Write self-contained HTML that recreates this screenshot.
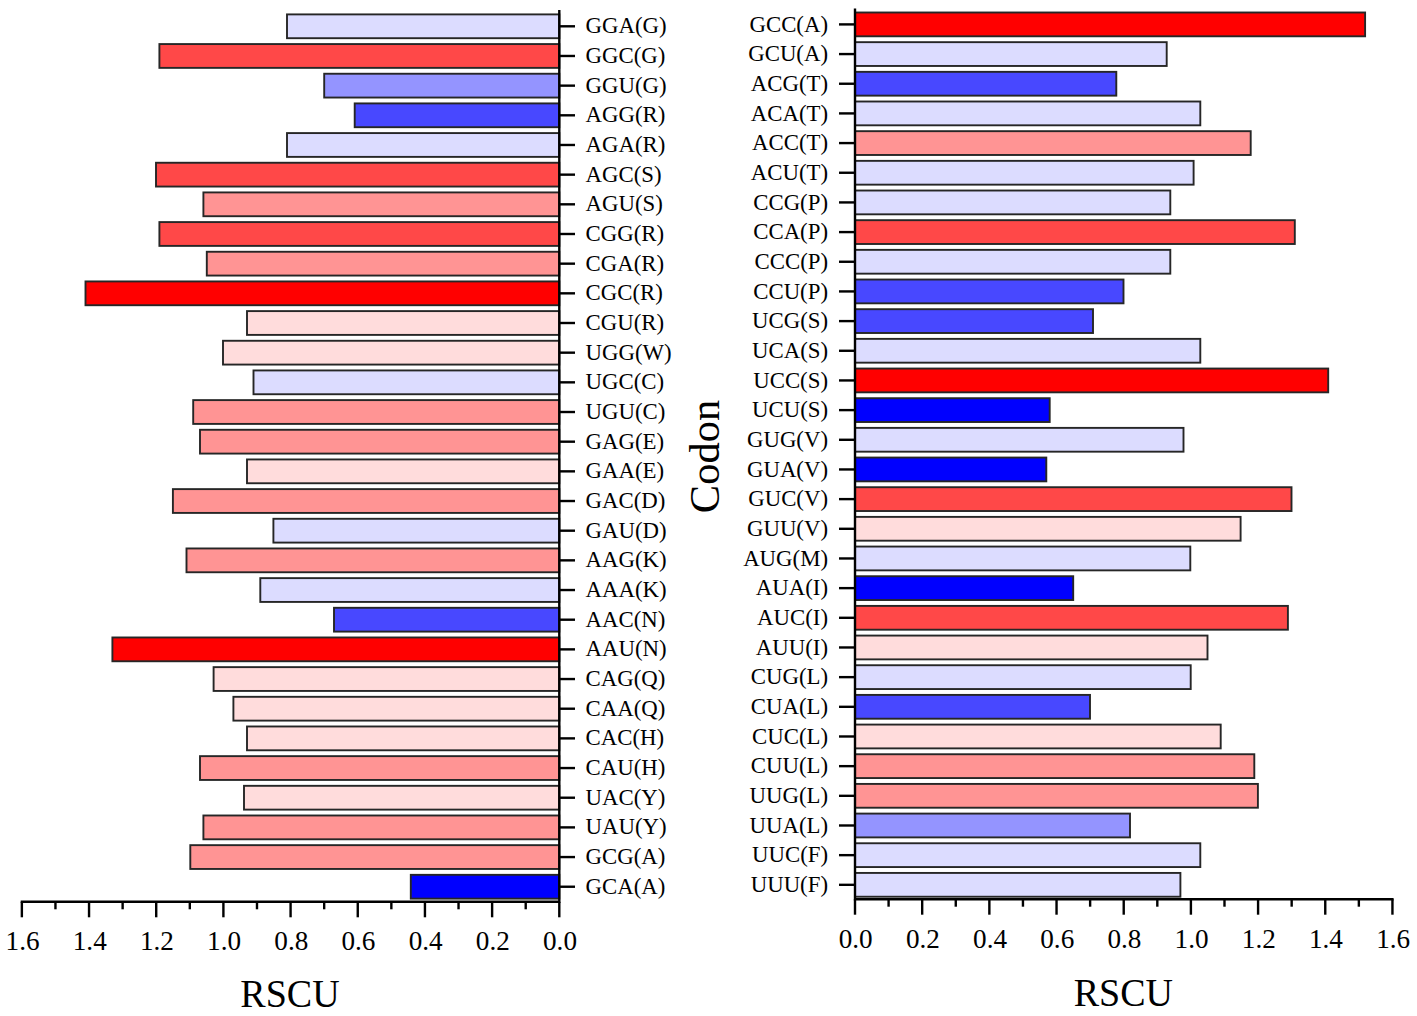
<!DOCTYPE html>
<html><head><meta charset="utf-8"><style>
html,body{margin:0;padding:0;background:#fff;}
body{width:1417px;height:1016px;overflow:hidden;}
svg{display:block;}
text{font-family:"Liberation Serif",serif;fill:#000;}
</style></head><body>
<svg width="1417" height="1016" viewBox="0 0 1417 1016">
<rect x="287.0" y="14.40" width="272.3" height="23.8" fill="#dcdcff" stroke="#262626" stroke-width="1.9"/>
<rect x="159.4" y="44.07" width="399.9" height="23.8" fill="#ff4848" stroke="#262626" stroke-width="1.9"/>
<rect x="324.2" y="73.74" width="235.1" height="23.8" fill="#9494ff" stroke="#262626" stroke-width="1.9"/>
<rect x="354.7" y="103.41" width="204.6" height="23.8" fill="#4848ff" stroke="#262626" stroke-width="1.9"/>
<rect x="287.0" y="133.08" width="272.3" height="23.8" fill="#dcdcff" stroke="#262626" stroke-width="1.9"/>
<rect x="156.0" y="162.75" width="403.3" height="23.8" fill="#ff4848" stroke="#262626" stroke-width="1.9"/>
<rect x="203.4" y="192.42" width="355.9" height="23.8" fill="#ff9494" stroke="#262626" stroke-width="1.9"/>
<rect x="159.4" y="222.09" width="399.9" height="23.8" fill="#ff4848" stroke="#262626" stroke-width="1.9"/>
<rect x="206.8" y="251.76" width="352.5" height="23.8" fill="#ff9494" stroke="#262626" stroke-width="1.9"/>
<rect x="85.5" y="281.43" width="473.8" height="23.8" fill="#ff0000" stroke="#262626" stroke-width="1.9"/>
<rect x="247.0" y="311.10" width="312.3" height="23.8" fill="#ffdcdc" stroke="#262626" stroke-width="1.9"/>
<rect x="223.0" y="340.77" width="336.3" height="23.8" fill="#ffdcdc" stroke="#262626" stroke-width="1.9"/>
<rect x="253.5" y="370.44" width="305.8" height="23.8" fill="#dcdcff" stroke="#262626" stroke-width="1.9"/>
<rect x="193.2" y="400.11" width="366.1" height="23.8" fill="#ff9494" stroke="#262626" stroke-width="1.9"/>
<rect x="200.0" y="429.78" width="359.3" height="23.8" fill="#ff9494" stroke="#262626" stroke-width="1.9"/>
<rect x="247.0" y="459.45" width="312.3" height="23.8" fill="#ffdcdc" stroke="#262626" stroke-width="1.9"/>
<rect x="172.9" y="489.12" width="386.4" height="23.8" fill="#ff9494" stroke="#262626" stroke-width="1.9"/>
<rect x="273.4" y="518.79" width="285.9" height="23.8" fill="#dcdcff" stroke="#262626" stroke-width="1.9"/>
<rect x="186.5" y="548.46" width="372.8" height="23.8" fill="#ff9494" stroke="#262626" stroke-width="1.9"/>
<rect x="260.3" y="578.13" width="299.0" height="23.8" fill="#dcdcff" stroke="#262626" stroke-width="1.9"/>
<rect x="334.0" y="607.80" width="225.3" height="23.8" fill="#4848ff" stroke="#262626" stroke-width="1.9"/>
<rect x="112.4" y="637.47" width="446.9" height="23.8" fill="#ff0000" stroke="#262626" stroke-width="1.9"/>
<rect x="213.6" y="667.14" width="345.7" height="23.8" fill="#ffdcdc" stroke="#262626" stroke-width="1.9"/>
<rect x="233.4" y="696.81" width="325.9" height="23.8" fill="#ffdcdc" stroke="#262626" stroke-width="1.9"/>
<rect x="247.0" y="726.48" width="312.3" height="23.8" fill="#ffdcdc" stroke="#262626" stroke-width="1.9"/>
<rect x="200.0" y="756.15" width="359.3" height="23.8" fill="#ff9494" stroke="#262626" stroke-width="1.9"/>
<rect x="244.0" y="785.82" width="315.3" height="23.8" fill="#ffdcdc" stroke="#262626" stroke-width="1.9"/>
<rect x="203.4" y="815.49" width="355.9" height="23.8" fill="#ff9494" stroke="#262626" stroke-width="1.9"/>
<rect x="190.3" y="845.16" width="369.0" height="23.8" fill="#ff9494" stroke="#262626" stroke-width="1.9"/>
<rect x="410.8" y="874.83" width="148.5" height="23.8" fill="#0000ff" stroke="#262626" stroke-width="1.9"/>
<rect x="855.0" y="12.50" width="510.1" height="23.8" fill="#ff0000" stroke="#262626" stroke-width="1.9"/>
<rect x="855.0" y="42.17" width="311.7" height="23.8" fill="#dcdcff" stroke="#262626" stroke-width="1.9"/>
<rect x="855.0" y="71.84" width="261.3" height="23.8" fill="#4848ff" stroke="#262626" stroke-width="1.9"/>
<rect x="855.0" y="101.51" width="345.3" height="23.8" fill="#dcdcff" stroke="#262626" stroke-width="1.9"/>
<rect x="855.0" y="131.18" width="395.7" height="23.8" fill="#ff9494" stroke="#262626" stroke-width="1.9"/>
<rect x="855.0" y="160.85" width="338.6" height="23.8" fill="#dcdcff" stroke="#262626" stroke-width="1.9"/>
<rect x="855.0" y="190.52" width="315.3" height="23.8" fill="#dcdcff" stroke="#262626" stroke-width="1.9"/>
<rect x="855.0" y="220.19" width="439.8" height="23.8" fill="#ff4848" stroke="#262626" stroke-width="1.9"/>
<rect x="855.0" y="249.86" width="315.3" height="23.8" fill="#dcdcff" stroke="#262626" stroke-width="1.9"/>
<rect x="855.0" y="279.53" width="268.5" height="23.8" fill="#4848ff" stroke="#262626" stroke-width="1.9"/>
<rect x="855.0" y="309.20" width="238.0" height="23.8" fill="#4848ff" stroke="#262626" stroke-width="1.9"/>
<rect x="855.0" y="338.87" width="345.3" height="23.8" fill="#dcdcff" stroke="#262626" stroke-width="1.9"/>
<rect x="855.0" y="368.54" width="473.2" height="23.8" fill="#ff0000" stroke="#262626" stroke-width="1.9"/>
<rect x="855.0" y="398.21" width="194.7" height="23.8" fill="#0000ff" stroke="#262626" stroke-width="1.9"/>
<rect x="855.0" y="427.88" width="328.5" height="23.8" fill="#dcdcff" stroke="#262626" stroke-width="1.9"/>
<rect x="855.0" y="457.55" width="191.3" height="23.8" fill="#0000ff" stroke="#262626" stroke-width="1.9"/>
<rect x="855.0" y="487.22" width="436.5" height="23.8" fill="#ff4848" stroke="#262626" stroke-width="1.9"/>
<rect x="855.0" y="516.89" width="385.6" height="23.8" fill="#ffdcdc" stroke="#262626" stroke-width="1.9"/>
<rect x="855.0" y="546.56" width="335.3" height="23.8" fill="#dcdcff" stroke="#262626" stroke-width="1.9"/>
<rect x="855.0" y="576.23" width="218.2" height="23.8" fill="#0000ff" stroke="#262626" stroke-width="1.9"/>
<rect x="855.0" y="605.90" width="432.9" height="23.8" fill="#ff4848" stroke="#262626" stroke-width="1.9"/>
<rect x="855.0" y="635.57" width="352.5" height="23.8" fill="#ffdcdc" stroke="#262626" stroke-width="1.9"/>
<rect x="855.0" y="665.24" width="335.7" height="23.8" fill="#dcdcff" stroke="#262626" stroke-width="1.9"/>
<rect x="855.0" y="694.91" width="235.0" height="23.8" fill="#4848ff" stroke="#262626" stroke-width="1.9"/>
<rect x="855.0" y="724.58" width="365.7" height="23.8" fill="#ffdcdc" stroke="#262626" stroke-width="1.9"/>
<rect x="855.0" y="754.25" width="399.3" height="23.8" fill="#ff9494" stroke="#262626" stroke-width="1.9"/>
<rect x="855.0" y="783.92" width="402.9" height="23.8" fill="#ff9494" stroke="#262626" stroke-width="1.9"/>
<rect x="855.0" y="813.59" width="275.0" height="23.8" fill="#9494ff" stroke="#262626" stroke-width="1.9"/>
<rect x="855.0" y="843.26" width="345.3" height="23.8" fill="#dcdcff" stroke="#262626" stroke-width="1.9"/>
<rect x="855.0" y="872.93" width="325.4" height="23.8" fill="#dcdcff" stroke="#262626" stroke-width="1.9"/>
<path d="M559.3,11.2 V901.8 H21.9" fill="none" stroke="#000" stroke-width="2.4" stroke-linecap="square"/>
<line x1="559.3" y1="26.30" x2="575" y2="26.30" stroke="#000" stroke-width="2.4"/>
<line x1="559.3" y1="55.97" x2="575" y2="55.97" stroke="#000" stroke-width="2.4"/>
<line x1="559.3" y1="85.64" x2="575" y2="85.64" stroke="#000" stroke-width="2.4"/>
<line x1="559.3" y1="115.31" x2="575" y2="115.31" stroke="#000" stroke-width="2.4"/>
<line x1="559.3" y1="144.98" x2="575" y2="144.98" stroke="#000" stroke-width="2.4"/>
<line x1="559.3" y1="174.65" x2="575" y2="174.65" stroke="#000" stroke-width="2.4"/>
<line x1="559.3" y1="204.32" x2="575" y2="204.32" stroke="#000" stroke-width="2.4"/>
<line x1="559.3" y1="233.99" x2="575" y2="233.99" stroke="#000" stroke-width="2.4"/>
<line x1="559.3" y1="263.66" x2="575" y2="263.66" stroke="#000" stroke-width="2.4"/>
<line x1="559.3" y1="293.33" x2="575" y2="293.33" stroke="#000" stroke-width="2.4"/>
<line x1="559.3" y1="323.00" x2="575" y2="323.00" stroke="#000" stroke-width="2.4"/>
<line x1="559.3" y1="352.67" x2="575" y2="352.67" stroke="#000" stroke-width="2.4"/>
<line x1="559.3" y1="382.34" x2="575" y2="382.34" stroke="#000" stroke-width="2.4"/>
<line x1="559.3" y1="412.01" x2="575" y2="412.01" stroke="#000" stroke-width="2.4"/>
<line x1="559.3" y1="441.68" x2="575" y2="441.68" stroke="#000" stroke-width="2.4"/>
<line x1="559.3" y1="471.35" x2="575" y2="471.35" stroke="#000" stroke-width="2.4"/>
<line x1="559.3" y1="501.02" x2="575" y2="501.02" stroke="#000" stroke-width="2.4"/>
<line x1="559.3" y1="530.69" x2="575" y2="530.69" stroke="#000" stroke-width="2.4"/>
<line x1="559.3" y1="560.36" x2="575" y2="560.36" stroke="#000" stroke-width="2.4"/>
<line x1="559.3" y1="590.03" x2="575" y2="590.03" stroke="#000" stroke-width="2.4"/>
<line x1="559.3" y1="619.70" x2="575" y2="619.70" stroke="#000" stroke-width="2.4"/>
<line x1="559.3" y1="649.37" x2="575" y2="649.37" stroke="#000" stroke-width="2.4"/>
<line x1="559.3" y1="679.04" x2="575" y2="679.04" stroke="#000" stroke-width="2.4"/>
<line x1="559.3" y1="708.71" x2="575" y2="708.71" stroke="#000" stroke-width="2.4"/>
<line x1="559.3" y1="738.38" x2="575" y2="738.38" stroke="#000" stroke-width="2.4"/>
<line x1="559.3" y1="768.05" x2="575" y2="768.05" stroke="#000" stroke-width="2.4"/>
<line x1="559.3" y1="797.72" x2="575" y2="797.72" stroke="#000" stroke-width="2.4"/>
<line x1="559.3" y1="827.39" x2="575" y2="827.39" stroke="#000" stroke-width="2.4"/>
<line x1="559.3" y1="857.06" x2="575" y2="857.06" stroke="#000" stroke-width="2.4"/>
<line x1="559.3" y1="886.73" x2="575" y2="886.73" stroke="#000" stroke-width="2.4"/>
<line x1="559.30" y1="901.8" x2="559.30" y2="917.3" stroke="#000" stroke-width="2.4"/>
<line x1="525.71" y1="901.8" x2="525.71" y2="909.3" stroke="#000" stroke-width="2.4"/>
<line x1="492.12" y1="901.8" x2="492.12" y2="917.3" stroke="#000" stroke-width="2.4"/>
<line x1="458.53" y1="901.8" x2="458.53" y2="909.3" stroke="#000" stroke-width="2.4"/>
<line x1="424.94" y1="901.8" x2="424.94" y2="917.3" stroke="#000" stroke-width="2.4"/>
<line x1="391.35" y1="901.8" x2="391.35" y2="909.3" stroke="#000" stroke-width="2.4"/>
<line x1="357.76" y1="901.8" x2="357.76" y2="917.3" stroke="#000" stroke-width="2.4"/>
<line x1="324.17" y1="901.8" x2="324.17" y2="909.3" stroke="#000" stroke-width="2.4"/>
<line x1="290.58" y1="901.8" x2="290.58" y2="917.3" stroke="#000" stroke-width="2.4"/>
<line x1="256.99" y1="901.8" x2="256.99" y2="909.3" stroke="#000" stroke-width="2.4"/>
<line x1="223.40" y1="901.8" x2="223.40" y2="917.3" stroke="#000" stroke-width="2.4"/>
<line x1="189.81" y1="901.8" x2="189.81" y2="909.3" stroke="#000" stroke-width="2.4"/>
<line x1="156.22" y1="901.8" x2="156.22" y2="917.3" stroke="#000" stroke-width="2.4"/>
<line x1="122.63" y1="901.8" x2="122.63" y2="909.3" stroke="#000" stroke-width="2.4"/>
<line x1="89.04" y1="901.8" x2="89.04" y2="917.3" stroke="#000" stroke-width="2.4"/>
<line x1="55.45" y1="901.8" x2="55.45" y2="909.3" stroke="#000" stroke-width="2.4"/>
<line x1="21.86" y1="901.8" x2="21.86" y2="917.3" stroke="#000" stroke-width="2.4"/>
<path d="M855.0,9.7 V899.2 H1392.4" fill="none" stroke="#000" stroke-width="2.4" stroke-linecap="square"/>
<line x1="839" y1="24.40" x2="855.0" y2="24.40" stroke="#000" stroke-width="2.4"/>
<line x1="839" y1="54.07" x2="855.0" y2="54.07" stroke="#000" stroke-width="2.4"/>
<line x1="839" y1="83.74" x2="855.0" y2="83.74" stroke="#000" stroke-width="2.4"/>
<line x1="839" y1="113.41" x2="855.0" y2="113.41" stroke="#000" stroke-width="2.4"/>
<line x1="839" y1="143.08" x2="855.0" y2="143.08" stroke="#000" stroke-width="2.4"/>
<line x1="839" y1="172.75" x2="855.0" y2="172.75" stroke="#000" stroke-width="2.4"/>
<line x1="839" y1="202.42" x2="855.0" y2="202.42" stroke="#000" stroke-width="2.4"/>
<line x1="839" y1="232.09" x2="855.0" y2="232.09" stroke="#000" stroke-width="2.4"/>
<line x1="839" y1="261.76" x2="855.0" y2="261.76" stroke="#000" stroke-width="2.4"/>
<line x1="839" y1="291.43" x2="855.0" y2="291.43" stroke="#000" stroke-width="2.4"/>
<line x1="839" y1="321.10" x2="855.0" y2="321.10" stroke="#000" stroke-width="2.4"/>
<line x1="839" y1="350.77" x2="855.0" y2="350.77" stroke="#000" stroke-width="2.4"/>
<line x1="839" y1="380.44" x2="855.0" y2="380.44" stroke="#000" stroke-width="2.4"/>
<line x1="839" y1="410.11" x2="855.0" y2="410.11" stroke="#000" stroke-width="2.4"/>
<line x1="839" y1="439.78" x2="855.0" y2="439.78" stroke="#000" stroke-width="2.4"/>
<line x1="839" y1="469.45" x2="855.0" y2="469.45" stroke="#000" stroke-width="2.4"/>
<line x1="839" y1="499.12" x2="855.0" y2="499.12" stroke="#000" stroke-width="2.4"/>
<line x1="839" y1="528.79" x2="855.0" y2="528.79" stroke="#000" stroke-width="2.4"/>
<line x1="839" y1="558.46" x2="855.0" y2="558.46" stroke="#000" stroke-width="2.4"/>
<line x1="839" y1="588.13" x2="855.0" y2="588.13" stroke="#000" stroke-width="2.4"/>
<line x1="839" y1="617.80" x2="855.0" y2="617.80" stroke="#000" stroke-width="2.4"/>
<line x1="839" y1="647.47" x2="855.0" y2="647.47" stroke="#000" stroke-width="2.4"/>
<line x1="839" y1="677.14" x2="855.0" y2="677.14" stroke="#000" stroke-width="2.4"/>
<line x1="839" y1="706.81" x2="855.0" y2="706.81" stroke="#000" stroke-width="2.4"/>
<line x1="839" y1="736.48" x2="855.0" y2="736.48" stroke="#000" stroke-width="2.4"/>
<line x1="839" y1="766.15" x2="855.0" y2="766.15" stroke="#000" stroke-width="2.4"/>
<line x1="839" y1="795.82" x2="855.0" y2="795.82" stroke="#000" stroke-width="2.4"/>
<line x1="839" y1="825.49" x2="855.0" y2="825.49" stroke="#000" stroke-width="2.4"/>
<line x1="839" y1="855.16" x2="855.0" y2="855.16" stroke="#000" stroke-width="2.4"/>
<line x1="839" y1="884.83" x2="855.0" y2="884.83" stroke="#000" stroke-width="2.4"/>
<line x1="855.00" y1="899.2" x2="855.00" y2="914.7" stroke="#000" stroke-width="2.4"/>
<line x1="888.59" y1="899.2" x2="888.59" y2="906.7" stroke="#000" stroke-width="2.4"/>
<line x1="922.18" y1="899.2" x2="922.18" y2="914.7" stroke="#000" stroke-width="2.4"/>
<line x1="955.77" y1="899.2" x2="955.77" y2="906.7" stroke="#000" stroke-width="2.4"/>
<line x1="989.36" y1="899.2" x2="989.36" y2="914.7" stroke="#000" stroke-width="2.4"/>
<line x1="1022.95" y1="899.2" x2="1022.95" y2="906.7" stroke="#000" stroke-width="2.4"/>
<line x1="1056.54" y1="899.2" x2="1056.54" y2="914.7" stroke="#000" stroke-width="2.4"/>
<line x1="1090.13" y1="899.2" x2="1090.13" y2="906.7" stroke="#000" stroke-width="2.4"/>
<line x1="1123.72" y1="899.2" x2="1123.72" y2="914.7" stroke="#000" stroke-width="2.4"/>
<line x1="1157.31" y1="899.2" x2="1157.31" y2="906.7" stroke="#000" stroke-width="2.4"/>
<line x1="1190.90" y1="899.2" x2="1190.90" y2="914.7" stroke="#000" stroke-width="2.4"/>
<line x1="1224.49" y1="899.2" x2="1224.49" y2="906.7" stroke="#000" stroke-width="2.4"/>
<line x1="1258.08" y1="899.2" x2="1258.08" y2="914.7" stroke="#000" stroke-width="2.4"/>
<line x1="1291.67" y1="899.2" x2="1291.67" y2="906.7" stroke="#000" stroke-width="2.4"/>
<line x1="1325.26" y1="899.2" x2="1325.26" y2="914.7" stroke="#000" stroke-width="2.4"/>
<line x1="1358.85" y1="899.2" x2="1358.85" y2="906.7" stroke="#000" stroke-width="2.4"/>
<line x1="1392.44" y1="899.2" x2="1392.44" y2="914.7" stroke="#000" stroke-width="2.4"/>
<text x="585.6" y="33.40" font-size="22.8">GGA(G)</text>
<text x="585.6" y="63.07" font-size="22.8">GGC(G)</text>
<text x="585.6" y="92.74" font-size="22.8">GGU(G)</text>
<text x="585.6" y="122.41" font-size="22.8">AGG(R)</text>
<text x="585.6" y="152.08" font-size="22.8">AGA(R)</text>
<text x="585.6" y="181.75" font-size="22.8">AGC(S)</text>
<text x="585.6" y="211.42" font-size="22.8">AGU(S)</text>
<text x="585.6" y="241.09" font-size="22.8">CGG(R)</text>
<text x="585.6" y="270.76" font-size="22.8">CGA(R)</text>
<text x="585.6" y="300.43" font-size="22.8">CGC(R)</text>
<text x="585.6" y="330.10" font-size="22.8">CGU(R)</text>
<text x="585.6" y="359.77" font-size="22.8">UGG(W)</text>
<text x="585.6" y="389.44" font-size="22.8">UGC(C)</text>
<text x="585.6" y="419.11" font-size="22.8">UGU(C)</text>
<text x="585.6" y="448.78" font-size="22.8">GAG(E)</text>
<text x="585.6" y="478.45" font-size="22.8">GAA(E)</text>
<text x="585.6" y="508.12" font-size="22.8">GAC(D)</text>
<text x="585.6" y="537.79" font-size="22.8">GAU(D)</text>
<text x="585.6" y="567.46" font-size="22.8">AAG(K)</text>
<text x="585.6" y="597.13" font-size="22.8">AAA(K)</text>
<text x="585.6" y="626.80" font-size="22.8">AAC(N)</text>
<text x="585.6" y="656.47" font-size="22.8">AAU(N)</text>
<text x="585.6" y="686.14" font-size="22.8">CAG(Q)</text>
<text x="585.6" y="715.81" font-size="22.8">CAA(Q)</text>
<text x="585.6" y="745.48" font-size="22.8">CAC(H)</text>
<text x="585.6" y="775.15" font-size="22.8">CAU(H)</text>
<text x="585.6" y="804.82" font-size="22.8">UAC(Y)</text>
<text x="585.6" y="834.49" font-size="22.8">UAU(Y)</text>
<text x="585.6" y="864.16" font-size="22.8">GCG(A)</text>
<text x="585.6" y="893.83" font-size="22.8">GCA(A)</text>
<text x="828" y="31.50" font-size="22.8" text-anchor="end">GCC(A)</text>
<text x="828" y="61.17" font-size="22.8" text-anchor="end">GCU(A)</text>
<text x="828" y="90.84" font-size="22.8" text-anchor="end">ACG(T)</text>
<text x="828" y="120.51" font-size="22.8" text-anchor="end">ACA(T)</text>
<text x="828" y="150.18" font-size="22.8" text-anchor="end">ACC(T)</text>
<text x="828" y="179.85" font-size="22.8" text-anchor="end">ACU(T)</text>
<text x="828" y="209.52" font-size="22.8" text-anchor="end">CCG(P)</text>
<text x="828" y="239.19" font-size="22.8" text-anchor="end">CCA(P)</text>
<text x="828" y="268.86" font-size="22.8" text-anchor="end">CCC(P)</text>
<text x="828" y="298.53" font-size="22.8" text-anchor="end">CCU(P)</text>
<text x="828" y="328.20" font-size="22.8" text-anchor="end">UCG(S)</text>
<text x="828" y="357.87" font-size="22.8" text-anchor="end">UCA(S)</text>
<text x="828" y="387.54" font-size="22.8" text-anchor="end">UCC(S)</text>
<text x="828" y="417.21" font-size="22.8" text-anchor="end">UCU(S)</text>
<text x="828" y="446.88" font-size="22.8" text-anchor="end">GUG(V)</text>
<text x="828" y="476.55" font-size="22.8" text-anchor="end">GUA(V)</text>
<text x="828" y="506.22" font-size="22.8" text-anchor="end">GUC(V)</text>
<text x="828" y="535.89" font-size="22.8" text-anchor="end">GUU(V)</text>
<text x="828" y="565.56" font-size="22.8" text-anchor="end">AUG(M)</text>
<text x="828" y="595.23" font-size="22.8" text-anchor="end">AUA(I)</text>
<text x="828" y="624.90" font-size="22.8" text-anchor="end">AUC(I)</text>
<text x="828" y="654.57" font-size="22.8" text-anchor="end">AUU(I)</text>
<text x="828" y="684.24" font-size="22.8" text-anchor="end">CUG(L)</text>
<text x="828" y="713.91" font-size="22.8" text-anchor="end">CUA(L)</text>
<text x="828" y="743.58" font-size="22.8" text-anchor="end">CUC(L)</text>
<text x="828" y="773.25" font-size="22.8" text-anchor="end">CUU(L)</text>
<text x="828" y="802.92" font-size="22.8" text-anchor="end">UUG(L)</text>
<text x="828" y="832.59" font-size="22.8" text-anchor="end">UUA(L)</text>
<text x="828" y="862.26" font-size="22.8" text-anchor="end">UUC(F)</text>
<text x="828" y="891.93" font-size="22.8" text-anchor="end">UUU(F)</text>
<text x="560.00" y="950" font-size="27.2" text-anchor="middle">0.0</text>
<text x="855.70" y="947.5" font-size="27.2" text-anchor="middle">0.0</text>
<text x="492.82" y="950" font-size="27.2" text-anchor="middle">0.2</text>
<text x="922.88" y="947.5" font-size="27.2" text-anchor="middle">0.2</text>
<text x="425.64" y="950" font-size="27.2" text-anchor="middle">0.4</text>
<text x="990.06" y="947.5" font-size="27.2" text-anchor="middle">0.4</text>
<text x="358.46" y="950" font-size="27.2" text-anchor="middle">0.6</text>
<text x="1057.24" y="947.5" font-size="27.2" text-anchor="middle">0.6</text>
<text x="291.28" y="950" font-size="27.2" text-anchor="middle">0.8</text>
<text x="1124.42" y="947.5" font-size="27.2" text-anchor="middle">0.8</text>
<text x="224.10" y="950" font-size="27.2" text-anchor="middle">1.0</text>
<text x="1191.60" y="947.5" font-size="27.2" text-anchor="middle">1.0</text>
<text x="156.92" y="950" font-size="27.2" text-anchor="middle">1.2</text>
<text x="1258.78" y="947.5" font-size="27.2" text-anchor="middle">1.2</text>
<text x="89.74" y="950" font-size="27.2" text-anchor="middle">1.4</text>
<text x="1325.96" y="947.5" font-size="27.2" text-anchor="middle">1.4</text>
<text x="22.56" y="950" font-size="27.2" text-anchor="middle">1.6</text>
<text x="1393.14" y="947.5" font-size="27.2" text-anchor="middle">1.6</text>
<text transform="translate(290,1007) scale(0.975,1)" font-size="39" text-anchor="middle">RSCU</text>
<text transform="translate(1123.3,1005.5) scale(0.975,1)" font-size="39" text-anchor="middle">RSCU</text>
<text transform="translate(719.2,456.5) rotate(-90)" x="0" y="0" font-size="42.5" text-anchor="middle">Codon</text>
</svg>
</body></html>
